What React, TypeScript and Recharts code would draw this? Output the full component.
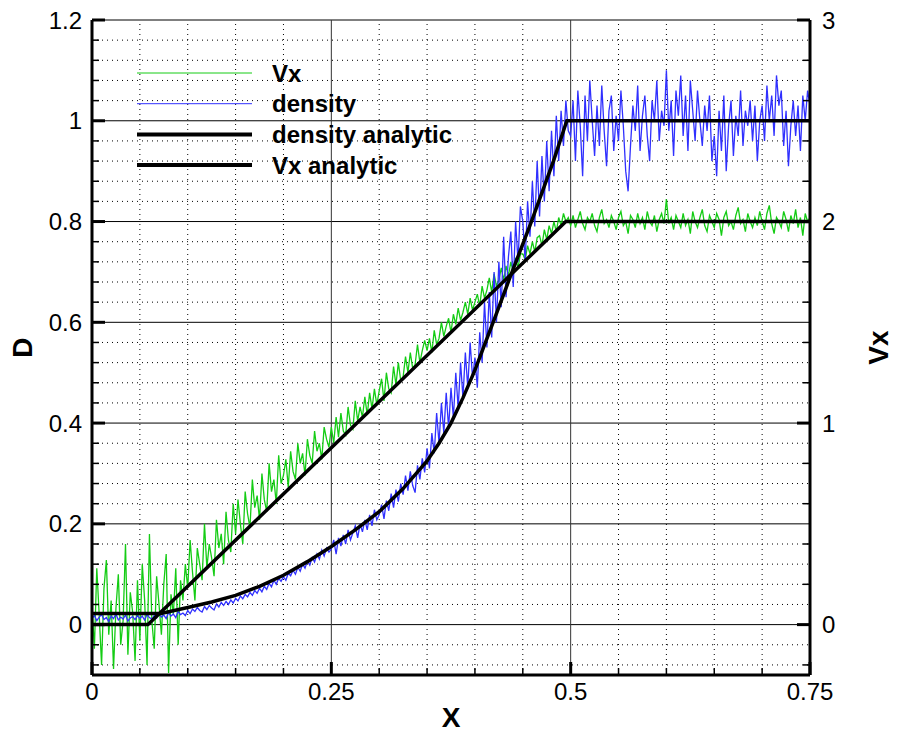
import React from 'react';
import { LineChart, Line, XAxis, YAxis, ReferenceLine, Legend } from 'recharts';

// sample positions of the noisy simulation output
const sampleX = [
  0, 0.0025, 0.005, 0.0075, 0.01, 0.0125, 0.015, 0.0175, 0.02, 0.0225, 0.025, 0.0275, 0.03, 0.0325, 0.035, 0.0375, 0.04, 0.0425, 0.045, 0.0475,
  0.05, 0.0525, 0.055, 0.0575, 0.06, 0.0625, 0.065, 0.0675, 0.07, 0.0725, 0.075, 0.0775, 0.08, 0.0825, 0.085, 0.0875, 0.09, 0.0925, 0.095, 0.0975,
  0.1, 0.1025, 0.105, 0.1075, 0.11, 0.1125, 0.115, 0.1175, 0.12, 0.1225, 0.125, 0.1275, 0.13, 0.1325, 0.135, 0.1375, 0.14, 0.1425, 0.145, 0.1475,
  0.15, 0.1525, 0.155, 0.1575, 0.16, 0.1625, 0.165, 0.1675, 0.17, 0.1725, 0.175, 0.1775, 0.18, 0.1825, 0.185, 0.1875, 0.19, 0.1925, 0.195, 0.1975,
  0.2, 0.2025, 0.205, 0.2075, 0.21, 0.2125, 0.215, 0.2175, 0.22, 0.2225, 0.225, 0.2275, 0.23, 0.2325, 0.235, 0.2375, 0.24, 0.2425, 0.245, 0.2475,
  0.25, 0.2525, 0.255, 0.2575, 0.26, 0.2625, 0.265, 0.2675, 0.27, 0.2725, 0.275, 0.2775, 0.28, 0.2825, 0.285, 0.2875, 0.29, 0.2925, 0.295, 0.2975,
  0.3, 0.3025, 0.305, 0.3075, 0.31, 0.3125, 0.315, 0.3175, 0.32, 0.3225, 0.325, 0.3275, 0.33, 0.3325, 0.335, 0.3375, 0.34, 0.3425, 0.345, 0.3475,
  0.35, 0.3525, 0.355, 0.3575, 0.36, 0.3625, 0.365, 0.3675, 0.37, 0.3725, 0.375, 0.3775, 0.38, 0.3825, 0.385, 0.3875, 0.39, 0.3925, 0.395, 0.3975,
  0.4, 0.4025, 0.405, 0.4075, 0.41, 0.4125, 0.415, 0.4175, 0.42, 0.4225, 0.425, 0.4275, 0.43, 0.4325, 0.435, 0.4375, 0.44, 0.4425, 0.445, 0.4475,
  0.45, 0.4525, 0.455, 0.4575, 0.46, 0.4625, 0.465, 0.4675, 0.47, 0.4725, 0.475, 0.4775, 0.48, 0.4825, 0.485, 0.4875, 0.49, 0.4925, 0.495, 0.4975,
  0.5, 0.5025, 0.505, 0.5075, 0.51, 0.5125, 0.515, 0.5175, 0.52, 0.5225, 0.525, 0.5275, 0.53, 0.5325, 0.535, 0.5375, 0.54, 0.5425, 0.545, 0.5475,
  0.55, 0.5525, 0.555, 0.5575, 0.56, 0.5625, 0.565, 0.5675, 0.57, 0.5725, 0.575, 0.5775, 0.58, 0.5825, 0.585, 0.5875, 0.59, 0.5925, 0.595, 0.5975,
  0.6, 0.6025, 0.605, 0.6075, 0.61, 0.6125, 0.615, 0.6175, 0.62, 0.6225, 0.625, 0.6275, 0.63, 0.6325, 0.635, 0.6375, 0.64, 0.6425, 0.645, 0.6475,
  0.65, 0.6525, 0.655, 0.6575, 0.66, 0.6625, 0.665, 0.6675, 0.67, 0.6725, 0.675, 0.6775, 0.68, 0.6825, 0.685, 0.6875, 0.69, 0.6925, 0.695, 0.6975,
  0.7, 0.7025, 0.705, 0.7075, 0.71, 0.7125, 0.715, 0.7175, 0.72, 0.7225, 0.725, 0.7275, 0.73, 0.7325, 0.735, 0.7375, 0.74, 0.7425, 0.745, 0.7475,
  0.75,
];

// D (left axis)
const densityNoisy = [
  0.012, 0.018, 0.008, 0.015, 0.02, 0.01, 0.014, 0.006, 0.017, 0.012, 0.021, 0.009, 0.015, 0.011, 0.019, 0.007, 0.013, 0.016, 0.01, 0.018,
  0.012, 0.017, 0.009, 0.02, 0.014, 0.011, 0.018, 0.013, 0.022, 0.015, 0.019, 0.012, 0.024, 0.017, 0.021, 0.014, 0.026, 0.02, 0.023, 0.018,
  0.028, 0.022, 0.031, 0.026, 0.034, 0.028, 0.025, 0.036, 0.03, 0.038, 0.033, 0.029, 0.041, 0.035, 0.044, 0.038, 0.046, 0.04, 0.049, 0.043,
  0.052, 0.047, 0.057, 0.051, 0.06, 0.055, 0.064, 0.058, 0.068, 0.062, 0.072, 0.065, 0.076, 0.07, 0.082, 0.075, 0.088, 0.08, 0.092, 0.086,
  0.095, 0.088, 0.102, 0.097, 0.108, 0.1, 0.114, 0.106, 0.12, 0.112, 0.126, 0.118, 0.133, 0.124, 0.14, 0.13, 0.148, 0.136, 0.152, 0.144,
  0.15, 0.168, 0.14, 0.172, 0.156, 0.178, 0.16, 0.188, 0.168, 0.182, 0.196, 0.172, 0.2, 0.184, 0.208, 0.188, 0.218, 0.196, 0.228, 0.208,
  0.218, 0.238, 0.21, 0.246, 0.226, 0.26, 0.232, 0.268, 0.244, 0.28, 0.258, 0.296, 0.266, 0.304, 0.276, 0.262, 0.316, 0.288, 0.33, 0.302,
  0.35, 0.31, 0.38, 0.34, 0.42, 0.36, 0.44, 0.38, 0.46, 0.39, 0.47, 0.41, 0.5, 0.43, 0.52, 0.45, 0.54, 0.47, 0.56, 0.49,
  0.53, 0.47, 0.58, 0.52, 0.64, 0.55, 0.66, 0.57, 0.7, 0.6, 0.72, 0.63, 0.77, 0.65, 0.73, 0.78, 0.67, 0.8, 0.72, 0.83,
  0.8, 0.72, 0.84, 0.77, 0.88, 0.79, 0.92, 0.81, 0.93, 0.84, 0.96, 0.86, 0.98, 0.89, 1.01, 0.92, 1.02, 0.95, 1.04, 0.98,
  0.97, 1.04, 0.92, 1.06, 0.99, 0.89, 1.05, 0.96, 1.08, 1.0, 0.93, 1.03, 0.95, 1.07, 0.98, 0.91, 1.02, 1.05, 0.94, 1.01,
  0.96, 1.06, 0.99, 0.9, 0.86, 0.95, 1.03, 0.98, 1.07, 0.94, 1.01, 1.05, 0.97, 0.92, 1.04, 1.0, 1.08, 0.96, 1.02, 0.99,
  1.1, 0.98, 1.04, 0.93, 1.06, 1.01, 1.09, 0.97, 1.05, 0.94, 1.08, 1.02, 0.96, 1.06, 1.0, 0.95, 1.03, 0.98, 1.05, 0.92,
  0.97, 0.89, 1.02, 0.94, 1.05, 0.9, 0.99, 1.04, 0.93, 1.01, 0.97, 1.06, 0.95, 1.02, 0.99, 1.04, 0.96, 1.03, 0.92, 1.0,
  1.03, 0.96, 1.07, 1.0, 1.05, 0.97, 1.09, 1.03, 1.06, 0.95, 1.02, 0.91, 0.99, 1.04, 0.97, 1.03, 0.94, 1.05, 1.0, 1.06,
  1.03,
];

// Vx (right axis)
const vxNoisy = [
  0.1, -0.12, 0.28, 0.05, -0.2, 0.18, 0.32, -0.05, 0.12, -0.22, 0.08, 0.25, -0.1, 0.02, 0.4, -0.15, 0.16, 0.06, -0.18, 0.22,
  -0.08, 0.3, 0.12, -0.2, 0.45, 0.02, -0.12, 0.24, 0.1, -0.05, 0.2, 0.35, -0.24, 0.15, 0.05, 0.28, -0.1, 0.22, 0.12, 0.3,
  0.18, 0.42, 0.26, 0.12, 0.38, 0.3, 0.22, 0.5, 0.28, 0.4, 0.33, 0.24, 0.52, 0.38, 0.45, 0.3, 0.56, 0.42, 0.36, 0.6,
  0.45, 0.62, 0.5, 0.4, 0.66, 0.55, 0.48, 0.72, 0.58, 0.64, 0.52, 0.75, 0.62, 0.56, 0.8, 0.66, 0.72, 0.6, 0.84, 0.7,
  0.74, 0.82, 0.68, 0.86, 0.76, 0.72, 0.9, 0.8, 0.85, 0.74, 0.92, 0.84, 0.8, 0.96, 0.86, 0.9, 0.82, 0.98, 0.92, 0.88,
  0.98, 0.9, 1.03, 0.93, 1.05, 0.96, 0.94, 1.08, 0.99, 0.97, 1.11, 1.01, 1.08, 1.03, 1.13, 1.04, 1.15, 1.07, 1.17, 1.09,
  1.16, 1.22, 1.11, 1.25, 1.17, 1.15, 1.28, 1.19, 1.3, 1.21, 1.23, 1.33, 1.25, 1.35, 1.27, 1.29, 1.39, 1.3, 1.36, 1.41,
  1.36, 1.42, 1.35, 1.46, 1.39, 1.42, 1.5, 1.43, 1.48, 1.52, 1.45, 1.54, 1.49, 1.57, 1.51, 1.55, 1.6, 1.54, 1.62, 1.56,
  1.6, 1.64, 1.58, 1.68, 1.62, 1.66, 1.72, 1.65, 1.74, 1.68, 1.71, 1.77, 1.71, 1.78, 1.73, 1.8, 1.75, 1.82, 1.77, 1.84,
  1.84, 1.81, 1.88, 1.84, 1.9, 1.85, 1.92, 1.93, 1.88, 1.96, 1.91, 1.98, 1.94, 2.0, 1.95, 2.02, 1.98, 2.04, 2.0, 2.02,
  1.98, 2.03, 1.97, 2.01, 2.05, 1.99, 1.96, 2.02, 2.0, 2.04, 1.98, 1.95, 2.02, 2.06, 1.99, 2.01, 1.97, 2.03, 2.0, 1.96,
  2.02, 2.05, 1.98, 2.0, 1.94, 2.03, 2.01, 1.97, 2.04, 1.99, 2.02, 1.96, 2.05, 2.0, 1.98, 2.03, 1.95, 2.01, 2.04, 1.99,
  2.11, 1.99, 2.02, 1.96, 2.03, 2.0, 1.97, 2.04, 1.98, 2.01, 1.94, 2.05, 2.0, 1.97, 2.02, 2.06, 1.98, 1.95, 2.03, 2.0,
  1.97, 2.04, 2.01, 1.93, 2.02, 2.05, 1.98, 2.0, 1.96, 2.03, 2.07, 1.99, 2.01, 1.95, 2.04, 2.0, 1.97, 2.02, 1.98, 2.05,
  2.0, 1.96, 2.04, 2.08, 1.99, 1.94, 2.02, 2.0, 1.97, 2.05, 2.01, 1.95, 2.03, 1.99, 2.06, 1.97, 2.02, 1.93, 2.04, 2.0,
  2.02,
];

const densityAnalyticX = [0, 0.072, 0.1, 0.125, 0.15, 0.175, 0.2, 0.225, 0.25, 0.275, 0.3, 0.325, 0.35, 0.3625, 0.375, 0.3875, 0.4, 0.41, 0.42, 0.437, 0.459, 0.482, 0.496, 0.75];
const densityAnalyticY = [0.022, 0.022, 0.034, 0.045, 0.058, 0.076, 0.098, 0.125, 0.155, 0.188, 0.224, 0.27, 0.325, 0.36, 0.4, 0.45, 0.505, 0.555, 0.605, 0.691, 0.8, 0.92, 1.0, 1.0];

const vxAnalyticX = [0, 0.0585, 0.495, 0.75];
const vxAnalyticY = [0, 0, 2, 2];

// axis ticks
const xMajor = [0, 0.25, 0.5, 0.75];
const xMinor = [0.05, 0.1, 0.15, 0.2, 0.3, 0.35, 0.4, 0.45, 0.55, 0.6, 0.65, 0.7];
const dMajor = [0, 0.2, 0.4, 0.6, 0.8, 1, 1.2];
const dMinor = [-0.08, -0.04, 0.04, 0.08, 0.12, 0.16, 0.24, 0.28, 0.32, 0.36, 0.44, 0.48, 0.52, 0.56, 0.64, 0.68, 0.72, 0.76, 0.84, 0.88, 0.92, 0.96, 1.04, 1.08, 1.12, 1.16];
const vxMajor = [0, 1, 2, 3];
const vxMinor = [-0.2, 0.2, 0.4, 0.6, 0.8, 1.2, 1.4, 1.6, 1.8, 2.2, 2.4, 2.6, 2.8];

const GREEN = '#14cc14';
const BLUE = '#3030ff';
const FONT = '"Liberation Sans", Arial, Helvetica, sans-serif';

const legendItems = [
  { name: 'Vx', color: GREEN, width: 1 },
  { name: 'density', color: BLUE, width: 1 },
  { name: 'density analytic', color: '#000', width: 4 },
  { name: 'Vx analytic', color: '#000', width: 4 },
];

const rows = sampleX.map((x, i) => ({ x, density: densityNoisy[i], vx: vxNoisy[i] }));
const densityAnalytic = densityAnalyticX.map((x, i) => ({ x, y: densityAnalyticY[i] }));
const vxAnalytic = vxAnalyticX.map((x, i) => ({ x, y: vxAnalyticY[i] }));

const inList = (list: number[], v: number) => list.some((m) => Math.abs(m - v) < 1e-9);

const TICK_MARGIN = { left: 10, right: 12, bottom: 8 };

const makeTick = (side: 'left' | 'right' | 'bottom', majors: number[]) => (props: any) => {
  const { x, y, payload } = props;
  const v = payload.value;
  const major = inList(majors, v);
  const len = major ? 13 : 7;
  const w = major ? 3 : 1.5;
  const textStyle = { fontFamily: FONT, fontSize: 24, fill: '#000' };
  if (side === 'left') {
    const ax = x + TICK_MARGIN.left;
    return (
      <g>
        <line x1={ax} x2={ax + len} y1={y} y2={y} stroke="#000" strokeWidth={w} />
        {major && <text x={x} y={y} dy="0.36em" textAnchor="end" style={textStyle}>{String(v)}</text>}
      </g>
    );
  }
  if (side === 'right') {
    const ax = x - TICK_MARGIN.right;
    return (
      <g>
        <line x1={ax} x2={ax - len} y1={y} y2={y} stroke="#000" strokeWidth={w} />
        {major && <text x={x} y={y} dy="0.36em" textAnchor="start" style={textStyle}>{String(v)}</text>}
      </g>
    );
  }
  const ay = y - TICK_MARGIN.bottom;
  return (
    <g>
      <line x1={x} x2={x} y1={ay} y2={ay - len} stroke="#000" strokeWidth={w} />
      {major && <text x={x} y={y} dy="0.72em" textAnchor="middle" style={textStyle}>{String(v)}</text>}
    </g>
  );
};

const titleStyle = { fontFamily: FONT, fontSize: 28, fontWeight: 700, fill: '#000' };

const AxisTitle = (text: string, dx: number, dy: number | null, rotate: boolean) => (props: any) => {
  const vb = props.viewBox || { x: 0, y: 0, width: 0, height: 0 };
  const cx = dx >= 0 ? vb.x + dx : vb.x + vb.width / 2;
  const cy = dy === null ? vb.y + vb.height / 2 : vb.y + dy;
  return (
    <text
      x={cx}
      y={cy}
      textAnchor="middle"
      dominantBaseline="central"
      transform={rotate ? `rotate(-90 ${cx} ${cy})` : undefined}
      style={titleStyle}
    >
      {text}
    </text>
  );
};

const LegendBox = () => (
  <svg width={340} height={125} style={{ display: 'block', overflow: 'visible' }}>
    {legendItems.map((item, i) => {
      const y = 15 + i * 30.7;
      return (
        <g key={item.name}>
          <line x1={0} x2={115} y1={y} y2={y} stroke={item.color} strokeWidth={item.width} />
          <text x={135} y={y} dominantBaseline="central" style={{ fontFamily: FONT, fontSize: 24, fontWeight: 700, fill: '#000' }}>
            {item.name}
          </text>
        </g>
      );
    })}
  </svg>
);

export default function App() {
  return (
    <div style={{ width: 889, height: 727 }}>
      <LineChart width={889} height={727} data={rows} margin={{ top: 12, right: 0, bottom: 0, left: 0 }}>
        {dMinor.map((v) => (
          <ReferenceLine key={`dm${v}`} yAxisId="left" y={v} stroke="#000" strokeWidth={1} strokeDasharray="1 4" />
        ))}
        {xMinor.map((v) => (
          <ReferenceLine key={`xm${v}`} yAxisId="left" x={v} stroke="#000" strokeWidth={1} strokeDasharray="1 4" />
        ))}
        {dMajor.map((v) => (
          <ReferenceLine key={`dM${v}`} yAxisId="left" y={v} stroke="#000" strokeWidth={1} />
        ))}
        {xMajor.slice(1, 3).map((v) => (
          <ReferenceLine key={`xM${v}`} yAxisId="left" x={v} stroke="#333" strokeWidth={1} />
        ))}
        <XAxis
          type="number"
          dataKey="x"
          domain={[0, 0.75]}
          allowDataOverflow
          ticks={[...xMajor, ...xMinor]}
          interval={0}
          height={60}
          tickSize={0}
          tickMargin={TICK_MARGIN.bottom}
          tick={makeTick('bottom', xMajor)}
          axisLine={{ stroke: '#000', strokeWidth: 3 }}
          label={{ content: AxisTitle('X', -1, 42, false) }}
        />
        <YAxis
          yAxisId="left"
          type="number"
          domain={[-0.1, 1.2]}
          allowDataOverflow
          ticks={[...dMajor, ...dMinor]}
          interval={0}
          width={84}
          tickSize={0}
          tickMargin={TICK_MARGIN.left}
          tick={makeTick('left', dMajor)}
          axisLine={{ stroke: '#000', strokeWidth: 3 }}
          label={{ content: AxisTitle('D', 14, null, true) }}
        />
        <YAxis
          yAxisId="right"
          orientation="right"
          type="number"
          domain={[-0.25, 3]}
          allowDataOverflow
          ticks={[...vxMajor, ...vxMinor]}
          interval={0}
          width={87}
          tickSize={0}
          tickMargin={TICK_MARGIN.right}
          tick={makeTick('right', vxMajor)}
          axisLine={{ stroke: '#000', strokeWidth: 3 }}
          label={{ content: AxisTitle('Vx', 68, null, true) }}
        />
        <Legend
          layout="vertical"
          align="center"
          verticalAlign="middle"
          content={() => <LegendBox />}
          wrapperStyle={{ top: 50, left: 129, width: 340, height: 125 }}
        />
        <Line yAxisId="right" dataKey="vx" name="Vx" stroke={GREEN} strokeWidth={1.3} dot={false} isAnimationActive={false} />
        <Line yAxisId="left" dataKey="density" name="density" stroke={BLUE} strokeWidth={1.3} dot={false} isAnimationActive={false} />
        <Line yAxisId="left" data={densityAnalytic} dataKey="y" name="density analytic" stroke="#000" strokeWidth={3.5} dot={false} isAnimationActive={false} />
        <Line yAxisId="right" data={vxAnalytic} dataKey="y" name="Vx analytic" stroke="#000" strokeWidth={3.5} dot={false} isAnimationActive={false} />
      </LineChart>
    </div>
  );
}
